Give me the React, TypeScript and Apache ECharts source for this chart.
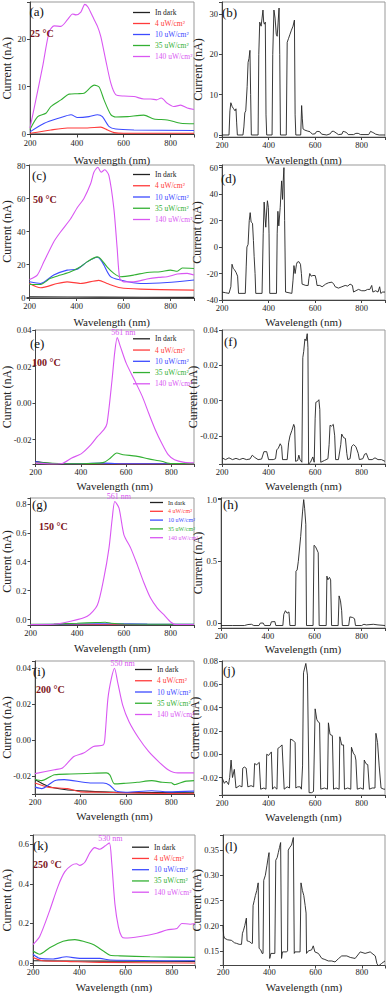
import React, { useEffect, useRef } from 'react';
import * as echarts from 'echarts';

const FONT = 'Liberation Serif';
const NAMES = ['In dark', '4 uW/cm²', '10 uW/cm²', '35 uW/cm²', '140 uW/cm²'];
const COLORS = ['#222222', '#ff3b3b', '#3d4bff', '#33b033', '#d957f2'];
const X_TICKS = [200, 400, 600, 800];

// ---- (a) 25 °C ----
const A_DARK = [[200, 0.05], [400, 0.05], [600, 0.05], [900, 0.05]];
const A_4UW = [[200, 0.2], [289, 0.9], [360, 1.3], [445, 1.3], [502, 1.5], [531, 0.9], [559, 0.35], [600, 0.2], [900, 0.2]];
const A_10UW = [[200, 0.5], [261, 2.3], [325, 3.4], [375, 4.1], [403, 3.5], [452, 3.7], [488, 4.1], [509, 3.7], [538, 1.6], [566, 1.1], [644, 0.9], [900, 0.8]];
const A_35UW = [[200, 1.0], [233, 3.7], [268, 4.4], [289, 5.8], [332, 7.2], [367, 8.4], [403, 8.5], [431, 8.6], [460, 9.9], [474, 10.3], [495, 9.9], [516, 7.2], [545, 4.1], [566, 3.6], [616, 3.7], [686, 4.0], [729, 3.2], [786, 3.0], [843, 2.3], [900, 2.2]];
const A_140UW = [[200, 1.3], [225, 7.2], [254, 14.2], [282, 21.5], [303, 22.7], [332, 22.6], [360, 24], [382, 25.2], [396, 25], [417, 25.6], [434, 27.2], [448, 26.6], [467, 24.7], [488, 22.6], [502, 20.5], [523, 15.6], [545, 10.7], [566, 8.3], [601, 8.0], [644, 7.9], [686, 7.4], [715, 7.4], [740, 7.2], [760, 7.6], [786, 6.5], [814, 5.8], [843, 6.1], [871, 5.5], [900, 5.2]];

// ---- (b) ----
const B_SIGNAL = [[200, 0], [230, 0], [234, 6], [238, 8], [244, 7], [250, 6.5], [256, 6], [260, 6.5], [263, 3], [266, 0], [290, 0], [294, 2], [298, 5.5], [302, 6], [308, 12], [312, 18], [316, 19], [320, 21], [323, 10], [326, 0], [355, 0], [358, 20], [362, 28], [368, 27], [372, 29], [376, 31], [379, 28], [382, 27.5], [386, 28], [389, 5], [392, 0], [415, 0], [418, 20], [423, 31], [428, 29], [433, 25], [437, 24.5], [441, 28], [445, 31.5], [448, 20], [451, 0], [476, 0], [480, 23], [486, 24], [492, 25], [498, 26], [505, 27], [511, 28.5], [514, 5], [517, 0], [538, 0], [542, 7.3], [545, 4], [548, 1.5], [556, 1.2], [566, 1.0], [578, 0.8], [588, 0.2], [600, 0.3], [605, 0.8], [612, 0.9], [620, 0.8], [628, 0.2], [650, 0], [665, 0.3], [672, 0.9], [680, 0.9], [690, 0.5], [700, 0.1], [715, 0.2], [720, 0.9], [727, 0.8], [735, 0.6], [742, 0.1], [765, 0.1], [775, 0.4], [785, 0.4], [795, 0.1], [830, 0.1], [838, 0.9], [845, 0.7], [852, 0.5], [860, 0.2], [875, 0], [900, 0]];

// ---- (c) 50 °C ----
const C_DARK = [[200, 0.5], [500, 0.3], [900, 0.2]];
const C_4UW = [[200, 8.6], [247, 6], [318, 8.6], [360, 9.6], [417, 8.6], [495, 10.5], [530, 8.6], [587, 6], [672, 5.2], [900, 4.6]];
const C_10UW = [[200, 9.6], [247, 8.6], [303, 13.7], [360, 16.7], [403, 17.3], [445, 21.7], [488, 24.5], [509, 21.7], [545, 12.7], [587, 10.7], [672, 8.6], [786, 9.2], [900, 10.7]];
const C_35UW = [[200, 8], [247, 8], [289, 11.7], [332, 13.7], [375, 15.7], [417, 18.7], [445, 21.7], [488, 24.7], [502, 23.7], [530, 18.7], [559, 14.7], [587, 12.7], [644, 13.7], [700, 15.3], [757, 15.7], [800, 16.7], [829, 16], [850, 18], [900, 17.7]];
const C_140UW = [[200, 11], [233, 13.7], [261, 21.7], [303, 33.8], [332, 39.8], [375, 47.8], [403, 54.5], [431, 60], [460, 69], [474, 76], [491, 79], [505, 76], [520, 77.5], [538, 74], [559, 54], [573, 30], [584, 11.7], [601, 9.6], [644, 9.6], [700, 11.3], [750, 12.3], [786, 12.7], [829, 14.3], [871, 14.7], [900, 13.7]];

// ---- (d) ----
const D_SIGNAL = [[200, -34], [215, -34.5], [230, -35], [238, -30], [243, -13], [248, -16], [253, -17], [260, -19], [267, -22], [271, -35], [300, -35], [304, -15], [307, 0], [312, 2], [317, 20], [321, 26], [325, 19], [331, 18], [335, 5], [338, -7], [342, -20], [345, -35], [372, -35], [377, 10], [381, 34], [385, 22], [388, 15], [392, 28], [395, 35], [399, 30], [402, 10], [405, -35], [434, -35], [437, 10], [440, 27], [444, 16], [450, 30], [456, 50], [460, 36], [463, 50], [466, 60], [469, 20], [473, -34], [500, -35], [505, -25], [509, -14], [514, -20], [520, -13], [523, -11.5], [530, -11], [537, -13], [541, -20], [544, -28], [560, -29], [570, -29], [573, -24], [577, -20], [583, -22], [590, -21.5], [600, -21.5], [605, -25], [608, -29], [620, -29], [630, -30], [645, -28], [657, -27], [672, -26.5], [680, -28], [686, -30], [700, -31], [715, -30], [729, -29], [740, -29.5], [750, -28], [760, -29], [765, -34], [775, -33], [786, -32], [800, -33], [814, -33], [825, -32], [835, -32], [843, -29], [848, -34], [860, -33], [870, -34], [877, -30], [882, -35], [890, -34], [900, -34]];

// ---- (e) 100 °C ----
const E_DARK = [[200, -0.032], [300, -0.0333], [900, -0.0333]];
const E_4UW = [[200, -0.0325], [260, -0.0333], [300, -0.0332], [900, -0.0333]];
const E_10UW = [[200, -0.032], [250, -0.033], [350, -0.0332], [500, -0.0328], [600, -0.0332], [900, -0.0332]];
const E_35UW = [[200, -0.0325], [300, -0.033], [400, -0.0332], [502, -0.0324], [531, -0.030], [559, -0.0273], [587, -0.0282], [644, -0.029], [700, -0.0305], [757, -0.0318], [800, -0.0331], [900, -0.0331]];
const E_140UW = [[200, -0.0327], [260, -0.0333], [318, -0.033], [360, -0.030], [403, -0.0276], [445, -0.0227], [474, -0.0182], [502, -0.0145], [516, -0.011], [538, 0.0127], [550, 0.028], [561, 0.036], [575, 0.031], [601, 0.0218], [637, 0.0127], [672, 0.0036], [700, -0.0055], [729, -0.0145], [757, -0.0218], [786, -0.0282], [814, -0.031], [857, -0.0324], [900, -0.0327]];

// ---- (f) ----
const F_SIGNAL = [[200, -0.0325], [215, -0.0335], [230, -0.0325], [245, -0.0335], [260, -0.0328], [275, -0.0335], [290, -0.0328], [305, -0.0335], [320, -0.0332], [330, -0.031], [340, -0.0322], [355, -0.0335], [370, -0.0332], [380, -0.029], [392, -0.029], [400, -0.0335], [420, -0.0335], [430, -0.033], [435, -0.028], [442, -0.027], [450, -0.0245], [456, -0.026], [460, -0.0335], [480, -0.0335], [486, -0.024], [492, -0.02], [500, -0.017], [508, -0.0135], [512, -0.015], [516, -0.0345], [525, -0.034], [530, -0.031], [535, -0.0335], [543, -0.035], [547, 0.0244], [551, 0.028], [556, 0.035], [561, 0.034], [566, 0.038], [569, 0.03], [572, -0.036], [580, -0.035], [590, -0.032], [596, -0.035], [600, -0.01], [603, -0.001], [610, -0.0005], [616, 0.0005], [620, -0.005], [624, -0.035], [640, -0.034], [655, -0.033], [660, -0.025], [664, -0.014], [670, -0.0145], [678, -0.0135], [684, -0.02], [688, -0.0335], [700, -0.0335], [710, -0.025], [714, -0.019], [722, -0.021], [730, -0.0215], [736, -0.03], [740, -0.0335], [750, -0.033], [757, -0.026], [765, -0.025], [775, -0.0262], [785, -0.03], [790, -0.0335], [805, -0.033], [812, -0.0305], [820, -0.03], [830, -0.0335], [845, -0.0335], [857, -0.0325], [870, -0.0335], [885, -0.0335], [900, -0.0345]];

// ---- (g) 150 °C ----
const G_DARK = [[200, -0.035], [900, -0.034]];
const G_4UW = [[200, -0.034], [900, -0.034]];
const G_10UW = [[200, -0.034], [400, -0.03], [550, -0.028], [700, -0.031], [900, -0.033]];
const G_35UW = [[200, -0.033], [300, -0.03], [400, -0.025], [480, -0.02], [520, -0.018], [545, -0.025], [600, -0.03], [900, -0.032]];
const G_140UW = [[200, -0.0345], [286, -0.034], [371, -0.0115], [443, 0.023], [486, 0.1], [514, 0.287], [536, 0.494], [550, 0.70], [561, 0.816], [579, 0.77], [600, 0.586], [629, 0.494], [657, 0.38], [686, 0.253], [714, 0.149], [743, 0.08], [771, 0.034], [800, -0.016], [821, -0.034], [900, -0.034]];

// ---- (h) ----
const H_SIGNAL = [[200, -0.02], [250, -0.02], [300, -0.02], [315, -0.012], [330, -0.01], [340, -0.02], [362, -0.02], [368, 0.0], [380, 0.0], [386, -0.02], [410, -0.02], [415, 0.01], [430, 0.012], [434, -0.02], [464, -0.02], [468, 0.07], [475, 0.1], [482, 0.08], [490, 0.09], [494, -0.02], [517, -0.02], [520, 0.42], [525, 0.43], [530, 0.5], [540, 0.7], [548, 0.9], [553, 1.0], [557, 0.93], [562, 0.8], [565, -0.02], [593, -0.02], [597, 0.63], [603, 0.62], [608, 0.6], [615, 0.57], [619, -0.02], [649, -0.02], [652, 0.38], [656, 0.35], [663, 0.37], [668, 0.35], [672, -0.02], [700, -0.02], [704, 0.22], [710, 0.18], [715, 0.1], [718, -0.02], [745, -0.02], [750, 0.05], [762, 0.045], [770, 0.035], [774, -0.02], [800, -0.02], [810, -0.01], [820, -0.015], [850, -0.01], [870, -0.015], [900, -0.02]];

// ---- (i) 200 °C ----
const I_DARK = [[200, -0.022], [257, -0.0257], [329, -0.0275], [429, -0.0284], [557, -0.029], [900, -0.0294]];
const I_4UW = [[200, -0.0239], [257, -0.0262], [343, -0.027], [400, -0.0288], [500, -0.029], [600, -0.0294], [900, -0.0299]];
const I_10UW = [[200, -0.0262], [229, -0.027], [286, -0.0226], [329, -0.022], [443, -0.0239], [500, -0.0239], [529, -0.0251], [557, -0.0284], [600, -0.029], [714, -0.0282], [786, -0.0288], [900, -0.0284]];
const I_35UW = [[200, -0.022], [229, -0.0226], [286, -0.0193], [357, -0.0189], [430, -0.0186], [514, -0.0183], [530, -0.0195], [550, -0.0244], [600, -0.024], [650, -0.0235], [714, -0.0226], [760, -0.0235], [800, -0.0238], [814, -0.0248], [860, -0.023], [900, -0.0226]];
const I_140UW = [[200, -0.0187], [286, -0.0165], [321, -0.0156], [371, -0.0092], [414, -0.0073], [457, -0.0037], [500, -0.0028], [507, 0.0], [521, 0.0229], [536, 0.034], [550, 0.0398], [564, 0.032], [586, 0.0193], [614, 0.0101], [657, 0.0009], [700, -0.0064], [743, -0.0119], [786, -0.0165], [829, -0.0183], [900, -0.0183]];

// ---- (j) ----
const J_SIGNAL = [[200, -0.02], [210, -0.025], [218, -0.023], [228, -0.026], [233, -0.02], [239, -0.005], [245, -0.02], [253, -0.013], [260, -0.029], [275, -0.027], [286, -0.028], [289, -0.012], [296, -0.011], [304, -0.012], [311, -0.028], [325, -0.027], [336, -0.028], [340, -0.008], [349, -0.009], [360, -0.007], [366, -0.03], [380, -0.029], [389, -0.03], [392, 0.0], [400, -0.001], [412, 0.002], [417, -0.03], [425, -0.028], [436, -0.03], [440, 0.005], [447, 0.006], [458, 0.008], [467, -0.03], [480, -0.028], [490, -0.029], [494, 0.013], [505, 0.012], [514, 0.01], [517, -0.029], [525, -0.028], [536, -0.028], [541, -0.03], [546, -0.01], [550, 0.07], [560, 0.078], [567, 0.068], [574, -0.033], [585, -0.033], [593, -0.032], [600, 0.039], [607, 0.03], [612, 0.028], [619, 0.027], [624, -0.03], [640, -0.029], [653, -0.03], [657, 0.027], [664, 0.017], [674, 0.016], [679, -0.03], [690, -0.029], [703, -0.03], [706, 0.015], [714, 0.008], [722, 0.008], [726, -0.03], [740, -0.029], [753, -0.03], [756, 0.006], [764, 0.001], [771, -0.001], [775, -0.005], [781, -0.03], [795, -0.029], [807, -0.03], [811, -0.005], [818, -0.008], [826, -0.009], [833, -0.03], [845, -0.029], [857, -0.029], [861, 0.018], [868, 0.01], [875, -0.01], [883, -0.029], [895, -0.03], [900, -0.03]];

// ---- (k) 250 °C ----
const K_DARK = [[200, 0.011], [500, 0.009], [900, 0.008]];
const K_4UW = [[200, 0.028], [243, 0.011], [345, 0.008], [489, 0.003], [900, 0.0]];
const K_10UW = [[200, 0.044], [229, 0.023], [287, 0.02], [345, 0.031], [402, 0.023], [489, 0.023], [533, 0.015], [900, 0.011]];
const K_35UW = [[200, 0.06], [229, 0.044], [272, 0.077], [330, 0.11], [381, 0.118], [417, 0.11], [460, 0.093], [504, 0.06], [533, 0.039], [576, 0.036], [706, 0.031], [900, 0.028]];
const K_140UW = [[200, 0.093], [229, 0.134], [272, 0.265], [308, 0.388], [337, 0.461], [366, 0.494], [388, 0.502], [402, 0.494], [424, 0.51], [446, 0.559], [467, 0.584], [489, 0.576], [511, 0.592], [530, 0.608], [540, 0.51], [554, 0.298], [569, 0.183], [583, 0.134], [598, 0.126], [663, 0.134], [735, 0.15], [778, 0.167], [822, 0.175], [843, 0.2], [879, 0.196], [900, 0.2]];

// ---- (l) ----
const L_SIGNAL = [[200, 0.2], [203, 0.18], [207, 0.175], [220, 0.172], [236, 0.171], [250, 0.166], [258, 0.165], [270, 0.163], [280, 0.163], [284, 0.185], [288, 0.19], [294, 0.2], [301, 0.215], [304, 0.17], [310, 0.169], [316, 0.168], [323, 0.165], [327, 0.165], [330, 0.24], [335, 0.25], [340, 0.26], [346, 0.27], [352, 0.285], [356, 0.155], [363, 0.152], [369, 0.145], [373, 0.145], [376, 0.29], [383, 0.3], [390, 0.32], [395, 0.335], [399, 0.345], [402, 0.135], [407, 0.145], [424, 0.145], [428, 0.33], [434, 0.335], [439, 0.345], [444, 0.355], [449, 0.365], [453, 0.135], [457, 0.148], [475, 0.148], [479, 0.15], [482, 0.35], [488, 0.355], [496, 0.36], [504, 0.375], [508, 0.145], [511, 0.148], [533, 0.148], [537, 0.285], [543, 0.27], [549, 0.26], [555, 0.24], [559, 0.225], [561, 0.145], [569, 0.15], [583, 0.152], [590, 0.16], [597, 0.148], [612, 0.145], [627, 0.135], [640, 0.133], [655, 0.13], [670, 0.13], [684, 0.128], [700, 0.135], [713, 0.14], [735, 0.14], [750, 0.137], [771, 0.135], [793, 0.148], [814, 0.145], [836, 0.148], [858, 0.14], [865, 0.125], [872, 0.12], [885, 0.125], [900, 0.13]];

const PANEL_LETTERS = ['(a)', '(b)', '(c)', '(d)', '(e)', '(f)', '(g)', '(h)', '(i)', '(j)', '(k)', '(l)'];
const TEMPS = ['25 °C', '50 °C', '100 °C', '150 °C', '200 °C', '250 °C'];

type Panel = {
  grid: { left: number; top: number; width: number; height: number };
  y: [number, number];
  step: number;
  dec: number;
  gap: number;
  xGap: number;
  xMargin?: number;
  letter: [number, number];
  curves?: number[][][];
  signal?: number[][];
  temp?: [number, number];
  legend?: { left: number; top: number; w: number; row: number; fs: number };
  peak?: string;
  peakOffset?: number;
};

const PANELS: Panel[] = [
  { grid: { left: 29, top: 2, width: 165, height: 132.5 }, y: [-0.05, 27.7], step: 10, dec: 0, gap: 17, xGap: 19.5, letter: [29.5, 4.5], curves: [A_DARK, A_4UW, A_10UW, A_35UW, A_140UW], temp: [30, 28], legend: { left: 133, top: 8, w: 17, row: 11, fs: 7.5 } },
  { grid: { left: 222, top: 2, width: 163, height: 135 }, y: [-0.5, 33], step: 10, dec: 0, gap: 18, xGap: 17, letter: [222, 5.5], signal: B_SIGNAL },
  { grid: { left: 29, top: 165, width: 165, height: 133 }, y: [-0.2, 80.4], step: 20, dec: 0, gap: 16.5, xGap: 18, letter: [32, 168.5], curves: [C_DARK, C_4UW, C_10UW, C_35UW, C_140UW], temp: [33, 194], legend: { left: 133, top: 170, w: 17, row: 11.25, fs: 7.5 } },
  { grid: { left: 222, top: 165, width: 163, height: 135 }, y: [-40, 62], step: 20, dec: 0, gap: 19.5, xGap: 16, letter: [221, 171.5], signal: D_SIGNAL },
  { grid: { left: 29, top: 330, width: 165, height: 134 }, y: [-0.0333, 0.0401], step: 0.02, dec: 2, gap: 22.5, xGap: 16.7, letter: [30, 336.5], curves: [E_DARK, E_4UW, E_10UW, E_35UW, E_140UW], temp: [32, 357.5], legend: { left: 133, top: 334.3, w: 17, row: 11.25, fs: 7.5 }, peak: '561 nm', peakOffset: 6 },
  { grid: { left: 222, top: 330, width: 163, height: 134 }, y: [-0.036, 0.0401], step: 0.02, dec: 2, gap: 23, xGap: 16.7, letter: [224, 334.5], signal: F_SIGNAL },
  { grid: { left: 30, top: 498, width: 164, height: 127 }, y: [-0.037, 0.84], step: 0.2, dec: 1, gap: 17.5, xGap: 17.5, letter: [32, 497.5], curves: [G_DARK, G_4UW, G_10UW, G_35UW, G_140UW], temp: [39, 521.5], legend: { left: 150, top: 499, w: 13, row: 8.8, fs: 6 }, peak: '561 nm', peakOffset: 4 },
  { grid: { left: 221, top: 498, width: 164, height: 130 }, y: [-0.04, 1.013], step: 0.5, dec: 1, gap: 17, xGap: 15, letter: [223, 498], signal: H_SIGNAL },
  { grid: { left: 30, top: 661, width: 164, height: 133 }, y: [-0.03, 0.0438], step: 0.02, dec: 2, gap: 22, xGap: 16.7, letter: [33, 664.5], curves: [I_DARK, I_4UW, I_10UW, I_35UW, I_140UW], temp: [36, 684.5], legend: { left: 135, top: 665, w: 17, row: 11.25, fs: 7.5 }, peak: '550 nm', peakOffset: 8 },
  { grid: { left: 222, top: 661, width: 163, height: 134 }, y: [-0.035, 0.0801], step: 0.02, dec: 2, gap: 21, xGap: 16, letter: [223, 663.5], signal: J_SIGNAL },
  { grid: { left: 33, top: 835, width: 162, height: 134 }, y: [-0.013, 0.648], step: 0.2, dec: 1, gap: 20, xGap: 15.5, xMargin: 2, letter: [33, 838.5], curves: [K_DARK, K_4UW, K_10UW, K_35UW, K_140UW], temp: [33, 859.5], legend: { left: 132, top: 842.7, w: 17, row: 11.25, fs: 7.5 }, peak: '530 nm', peakOffset: 1 },
  { grid: { left: 223, top: 835, width: 162, height: 134 }, y: [0.121, 0.38], step: 0.05, dec: 2, gap: 20.5, xGap: 15.5, xMargin: 2, letter: [225, 839.5], signal: L_SIGNAL },
];

function tickFormatter(step: number, dec: number) {
  return (v: number) => {
    const r = v / step;
    if (Math.abs(r - Math.round(r)) > 1e-6) return '';
    let val = Math.round(r) * step;
    if (Math.abs(val) < 1e-12) val = 0;
    return val.toFixed(dec);
  };
}

function buildOption() {
  const grid: any[] = [];
  const xAxis: any[] = [];
  const yAxis: any[] = [];
  const series: any[] = [];
  const legend: any[] = [];
  const graphic: any[] = [];
  const axisColor = '#444';

  PANELS.forEach((p, i) => {
    grid.push({ ...p.grid, show: true, borderColor: '#999', borderWidth: 1, backgroundColor: 'transparent' });
    xAxis.push({
      gridIndex: i, type: 'value', min: 200, max: 900, minInterval: 200, maxInterval: 200,
      axisLine: { onZero: false, lineStyle: { color: axisColor, width: 1 } },
      axisTick: { length: 3, lineStyle: { color: axisColor } },
      axisLabel: {
        fontSize: 8.5, lineHeight: 9, margin: p.xMargin ?? 3.5, color: '#222', fontFamily: FONT,
        formatter: (v: number) => (X_TICKS.includes(Math.round(v)) && Math.abs(v - Math.round(v)) < 1e-6 ? String(Math.round(v)) : ''),
      },
      splitLine: { show: false },
      name: 'Wavelength (nm)', nameLocation: 'middle', nameGap: p.xGap,
      nameMoveOverlap: false,
      nameTextStyle: { fontSize: 11, lineHeight: 11, color: '#222', fontFamily: FONT },
    });
    yAxis.push({
      gridIndex: i, type: 'value', min: p.y[0], max: p.y[1], minInterval: p.step, maxInterval: p.step,
      axisLine: { onZero: false, lineStyle: { color: axisColor, width: 1 } },
      axisTick: { length: 3, lineStyle: { color: axisColor } },
      axisLabel: { fontSize: 8.5, lineHeight: 9, margin: 4, color: '#222', fontFamily: FONT, formatter: tickFormatter(p.step, p.dec), showMinLabel: true, showMaxLabel: true },
      splitLine: { show: false },
      name: 'Current (nA)', nameLocation: 'middle', nameGap: p.gap,
      nameMoveOverlap: false,
      nameTextStyle: { fontSize: 12, lineHeight: 12, color: '#222', fontFamily: FONT },
    });

    if (p.curves) {
      p.curves.forEach((data, k) => {
        const s: any = {
          type: 'line', name: NAMES[k], xAxisIndex: i, yAxisIndex: i, data,
          symbol: 'none', showSymbol: false, smooth: 0.25,
          lineStyle: { width: 1.1, color: COLORS[k] }, itemStyle: { color: COLORS[k] },
          z: 2 + k,
        };
        if (k === 4 && p.peak) {
          s.markPoint = {
            symbol: 'circle', symbolSize: 1,
            itemStyle: { color: 'rgba(0,0,0,0)' },
            data: [{ type: 'max' }],
            label: { show: true, position: 'top', distance: 0, offset: [p.peakOffset || 0, 0], formatter: p.peak, color: COLORS[4], fontSize: 8, fontFamily: FONT },
          };
        }
        series.push(s);
      });
    }
    if (p.signal) {
      series.push({
        type: 'line', name: 'signal-' + i, xAxisIndex: i, yAxisIndex: i, data: p.signal,
        symbol: 'none', showSymbol: false, lineStyle: { width: 0.9, color: '#222' }, itemStyle: { color: '#222' },
      });
    }
    if (p.legend) {
      const l = p.legend;
      const lh = Math.round(l.fs + 1);
      legend.push({
        orient: 'vertical', left: l.left, top: l.top, itemWidth: l.w, itemHeight: 1.3, itemGap: l.row - lh,
        icon: 'rect', selectedMode: false, padding: 0,
        data: NAMES.map((n, k) => ({ name: n, icon: 'rect', itemStyle: { color: COLORS[k] }, textStyle: { color: COLORS[k] } })),
        textStyle: { fontSize: l.fs, lineHeight: lh, fontFamily: FONT },
      });
    }
    graphic.push({
      type: 'text', left: p.letter[0], top: p.letter[1], z: 100,
      style: { text: PANEL_LETTERS[i], fill: '#111', fontSize: 13, fontFamily: FONT },
    });
    if (p.temp) {
      graphic.push({
        type: 'text', left: p.temp[0], top: p.temp[1], z: 100,
        style: { text: TEMPS[Math.floor(i / 2)], fill: '#7d1420', fontSize: 10, fontWeight: 'bold', fontFamily: FONT },
      });
    }
  });

  return {
    animation: false,
    backgroundColor: '#fff',
    textStyle: { fontFamily: FONT },
    grid, xAxis, yAxis, series, legend, graphic,
  };
}

export default function App() {
  const ref = useRef<HTMLDivElement>(null);
  useEffect(() => {
    if (!ref.current) return;
    const chart = echarts.init(ref.current, null, { renderer: 'svg' });
    chart.setOption(buildOption() as any);
    return () => chart.dispose();
  }, []);
  return <div ref={ref} style={{ position: 'fixed', left: 0, top: 0, width: 390, height: 993, background: '#fff' }} />;
}
